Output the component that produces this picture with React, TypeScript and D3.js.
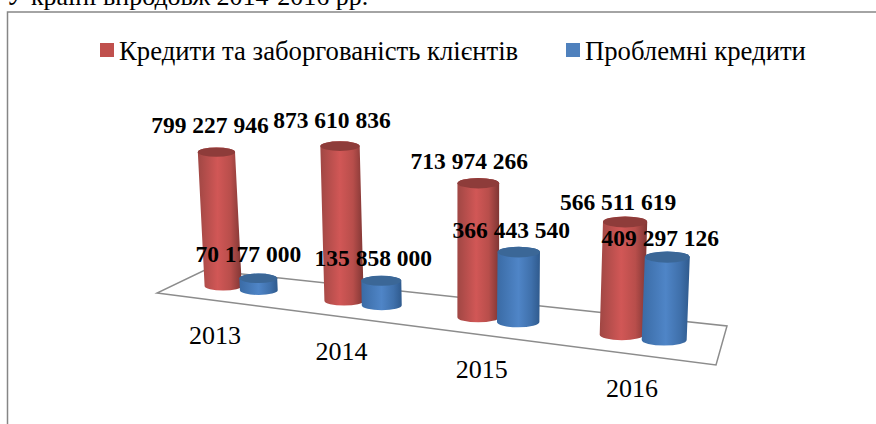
import React from "react";
import * as d3 from "d3";

const years = ["2013", "2014", "2015", "2016"];
const loans = [799227946, 873610836, 713974266, 566511619];
const problemLoans = [70177000, 135858000, 366443540, 409297126];
const seriesNames = ["Кредити та заборгованість клієнтів", "Проблемні кредити"];

const W = 876, H = 424;
const FONT = "'Liberation Serif', serif";

// floor quad of the pseudo-3D plot: front-left, front-right, back-right, back-left
const FLOOR = [[157, 293], [716, 365], [727, 326], [205, 270]];

// perspective: categories spread out toward the viewer on the right
const groupX = d3.scalePow().exponent(1.2).domain([1, 4]).range([241, 643]);
const baseY = d3.scaleLinear().domain([224, 665]).range([286, 340]);
const radiusX = d3.scaleLinear().domain([224, 665]).range([18.6, 22.5]);
const labelX = d3.scaleLinear().domain([241, 643]).range([215, 632]);
const labelY = d3.scaleLinear().domain([215, 632]).range([344, 397]);
const heightScale = d3.scaleLinear().domain([0, 1e9]).range([0, 180]);
const R0 = 20, RY = 5, LEAN_X = 476, LEAN = 0.0002, OFFSET = 0.95;

function cylinder(i: number, seriesIdx: number, value: number) {
  const gx = groupX(i + 1);
  const r = radiusX(gx);
  const x = gx + (seriesIdx === 0 ? -1 : 1) * r * OFFSET;
  const rx = radiusX(x);
  const k = rx / R0;
  const ry = RY * k;
  const y = baseY(x);
  const hgt = heightScale(value) * k;
  const tx = x + (x - LEAN_X) * hgt * LEAN;
  const ty = y - hgt;
  const path = `M${tx - rx},${ty} L${x - rx},${y} A${rx},${ry} 0 0 0 ${x + rx},${y} L${tx + rx},${ty} A${rx},${ry} 0 0 0 ${tx - rx},${ty} Z`;
  return { path, top: { cx: tx, cy: ty, rx, ry } };
}

const fills = ["url(#redBody)", "url(#blueBody)"];
const topFills = ["#8e3c3a", "#3b6797"];
const legendColors = ["#c0504d", "#4f81bd"];

// hand-placed label centres, relative to the cylinder top
const labelNudges = [
  [[-6.5, -19], [-8, -18], [-9, -14], [-7, -12]],
  [[-10, -16.5], [-8, -14.5], [-7.5, -14], [-7, -11]],
];

export default function App() {
  const groups = years.map((_, i) => [cylinder(i, 0, loans[i]), cylinder(i, 1, problemLoans[i])]);
  const fmt = (v: number) => d3.format(",")(v).replace(/,/g, " ");
  return (
    <svg width={W} height={H} style={{ position: "absolute", left: 0, top: 0, background: "#fff" }}>
      <defs>
        <linearGradient id="redBody" x1="0" x2="1" y1="0" y2="0">
          <stop offset="0" stopColor="#a04744" />
          <stop offset="0.45" stopColor="#d15756" />
          <stop offset="0.75" stopColor="#b84e4b" />
          <stop offset="1" stopColor="#7f3634" />
        </linearGradient>
        <linearGradient id="blueBody" x1="0" x2="1" y1="0" y2="0">
          <stop offset="0" stopColor="#3a6ba5" />
          <stop offset="0.5" stopColor="#4f85c7" />
          <stop offset="0.8" stopColor="#3f70ab" />
          <stop offset="1" stopColor="#2f5a8d" />
        </linearGradient>
      </defs>

      <text x={6} y={5} fontFamily={FONT} fontSize={26} fill="#000">У країні впродовж 2014-2016 рр.</text>
      <path d={`M7.5,${H} V12 H${W}`} fill="none" stroke="#868686" strokeWidth={1.5} />

      <rect x={100} y={43} width={14} height={14} fill={legendColors[0]} />
      <text x={119} y={60} fontFamily={FONT} fontSize={26.7} fill="#000">{seriesNames[0]}</text>
      <rect x={566} y={43} width={14} height={14} fill={legendColors[1]} />
      <text x={585} y={60} fontFamily={FONT} fontSize={26.7} fill="#000">{seriesNames[1]}</text>

      <polygon points={FLOOR.map((p) => p.join(",")).join(" ")} fill="none" stroke="#8c8c8c" strokeWidth={1.5} />

      {groups.map((g, i) => (
        <g key={years[i]}>
          {g.map((c, j) => (
            <g key={j}>
              <path d={c.path} fill={fills[j]} />
              <ellipse {...c.top} fill={topFills[j]} />
            </g>
          ))}
        </g>
      ))}

      {years.map((yr, i) => {
        const x = labelX(groupX(i + 1));
        return (
          <text key={yr} x={x} y={labelY(x)} textAnchor="middle" fontFamily={FONT} fontSize={26} fill="#000">{yr}</text>
        );
      })}

      {[loans, problemLoans].map((vals, j) =>
        vals.map((v, i) => {
          const t = groups[i][j].top;
          return (
            <text key={`${j}-${i}`} x={t.cx + labelNudges[j][i][0]} y={t.cy + labelNudges[j][i][1]} textAnchor="middle"
              fontFamily={FONT} fontWeight="bold" fontSize={23.5} fill="#000">{fmt(v)}</text>
          );
        })
      )}
    </svg>
  );
}
